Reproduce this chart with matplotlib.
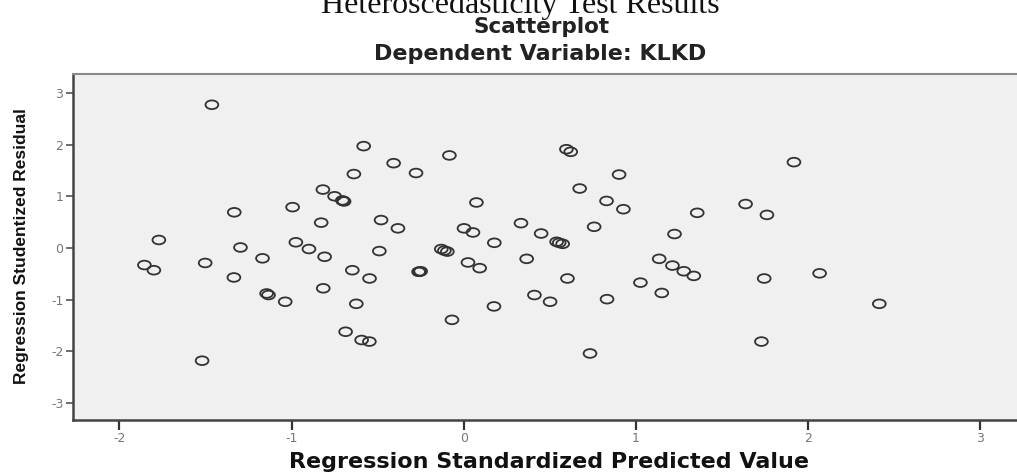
import matplotlib
matplotlib.use("Agg")
import matplotlib.pyplot as plt
from matplotlib.path import Path
from matplotlib.transforms import Affine2D

# Data (standardized predicted value, studentized residual)
predicted = [
    -1.463, -0.581, -0.407, -0.638, -0.818, -0.750, -0.705, -0.695, -0.700,
    -1.333, -0.994, -0.828, -0.480, -1.771, -1.297, -0.975, -0.899, -0.808,
    -0.490, -1.855, -1.800, -1.502, -1.169, -1.335, -0.647, -0.547, -1.145,
    -1.134, -1.037, -0.816, -0.624, -0.686, -0.593, -0.548, -1.520,
    -0.277, -0.083, -0.382, 0.074, 0.002, 0.054, 0.178, -0.130, -0.112,
    -0.095, -0.262, -0.256, -0.250, 0.025, 0.093, 0.176, -0.068, 0.333,
    0.450, 0.540, 0.555, 0.575, 0.366, 0.603, 0.411, 0.502, 0.734, 0.597,
    0.622, 0.674, 0.903, 0.830, 0.928, 0.758, 0.833, 1.027, 1.151, 1.136,
    1.213, 1.279, 1.337, 1.225, 1.357, 1.919, 1.638, 1.762, 1.746, 2.068,
    2.415, 1.730,
]
residual = [
    2.77, 1.97, 1.64, 1.43, 1.13, 1.00, 0.92, 0.90, 0.91,
    0.69, 0.79, 0.49, 0.54, 0.155, 0.01, 0.11, -0.02, -0.17,
    -0.06, -0.33, -0.43, -0.29, -0.20, -0.57, -0.43, -0.59, -0.88,
    -0.91, -1.04, -0.78, -1.08, -1.62, -1.78, -1.81, -2.18,
    1.45, 1.79, 0.38, 0.88, 0.38, 0.30, 0.10, -0.02, -0.05,
    -0.07, -0.46, -0.46, -0.45, -0.28, -0.39, -1.13, -1.39, 0.48,
    0.28, 0.12, 0.10, 0.08, -0.21, -0.59, -0.91, -1.04, -2.04, 1.91,
    1.86, 1.15, 1.42, 0.91, 0.75, 0.41, -0.99, -0.67, -0.87, -0.21,
    -0.34, -0.45, -0.54, 0.27, 0.68, 1.66, 0.85, 0.64, -0.59, -0.49,
    -1.08, -1.81,
]

x_ticks = [-2, -1, 0, 1, 2, 3]
y_ticks = [-3, -2, -1, 0, 1, 2, 3]
x_labels = ["-2", "-1", "0", "1", "2", "3"]
y_labels = ["-3", "-2", "-1", "0", "1", "2", "3"]

W, H = 1017, 474
fig = plt.figure(figsize=(W / 100, H / 100), dpi=100)
fig.patch.set_facecolor("white")
ax_left, ax_top, ax_bottom = 73, 74, 420
ax = fig.add_axes([ax_left / W, 1 - ax_bottom / H, 1 - ax_left / W, (ax_bottom - ax_top) / H])
ax.set_facecolor("#f0f0f0")

# horizontally elongated open-circle marker
ellipse = Path.unit_circle().transformed(Affine2D().scale(1.0, 0.68))
ax.scatter(predicted, residual, marker=ellipse, s=85, facecolors="none",
           edgecolors="#333333", linewidths=1.3, zorder=3)

ax.set_xlim(-2.27, 3.215)
ax.set_ylim(-3.327, 3.365)
ax.set_xticks(x_ticks)
ax.set_xticklabels(x_labels)
ax.set_yticks(y_ticks)
ax.set_yticklabels(y_labels)

ax.tick_params(axis="x", direction="out", length=7, width=1.6, color="#333333",
               labelsize=9, labelcolor="#777777", pad=2)
ax.tick_params(axis="y", direction="out", length=5, width=1.2, color="#555555",
               labelsize=9, labelcolor="#777777", pad=2)

for side in ["left", "bottom"]:
    ax.spines[side].set_color("#444444")
    ax.spines[side].set_linewidth(1.8)
ax.spines["top"].set_color("#8a8a8a")
ax.spines["top"].set_linewidth(1.5)
ax.spines["right"].set_visible(False)

ax.set_xlabel("Regression Standardized Predicted Value", family="DejaVu Sans",
              fontweight="bold", fontsize=16, color="#111111", va="center", ha="center")
ax.xaxis.set_label_coords((549 - ax_left) / (W - ax_left),
                          (ax_bottom - 462) / (ax_bottom - ax_top))
ax.set_ylabel("Regression Studentized Residual", family="Liberation Sans",
              fontweight="bold", fontsize=12.5, color="#111111", va="center", ha="center")
ax.yaxis.set_label_coords((22 - ax_left) / (W - ax_left),
                          (ax_bottom - 246) / (ax_bottom - ax_top))

fig.text(520 / W, 1 - 13 / H, "Heteroscedasticity Test Results",
         family="Liberation Serif", fontsize=23, ha="center", va="baseline",
         color="#111111")
fig.text(542 / W, 1 - 33 / H, "Scatterplot", family="DejaVu Sans",
         fontweight="bold", fontsize=15.5, ha="center", va="baseline", color="#222222")
fig.text(540 / W, 1 - 60 / H, "Dependent Variable: KLKD", family="DejaVu Sans",
         fontweight="bold", fontsize=16, ha="center", va="baseline", color="#222222")

fig.savefig("out.png", dpi=100)
